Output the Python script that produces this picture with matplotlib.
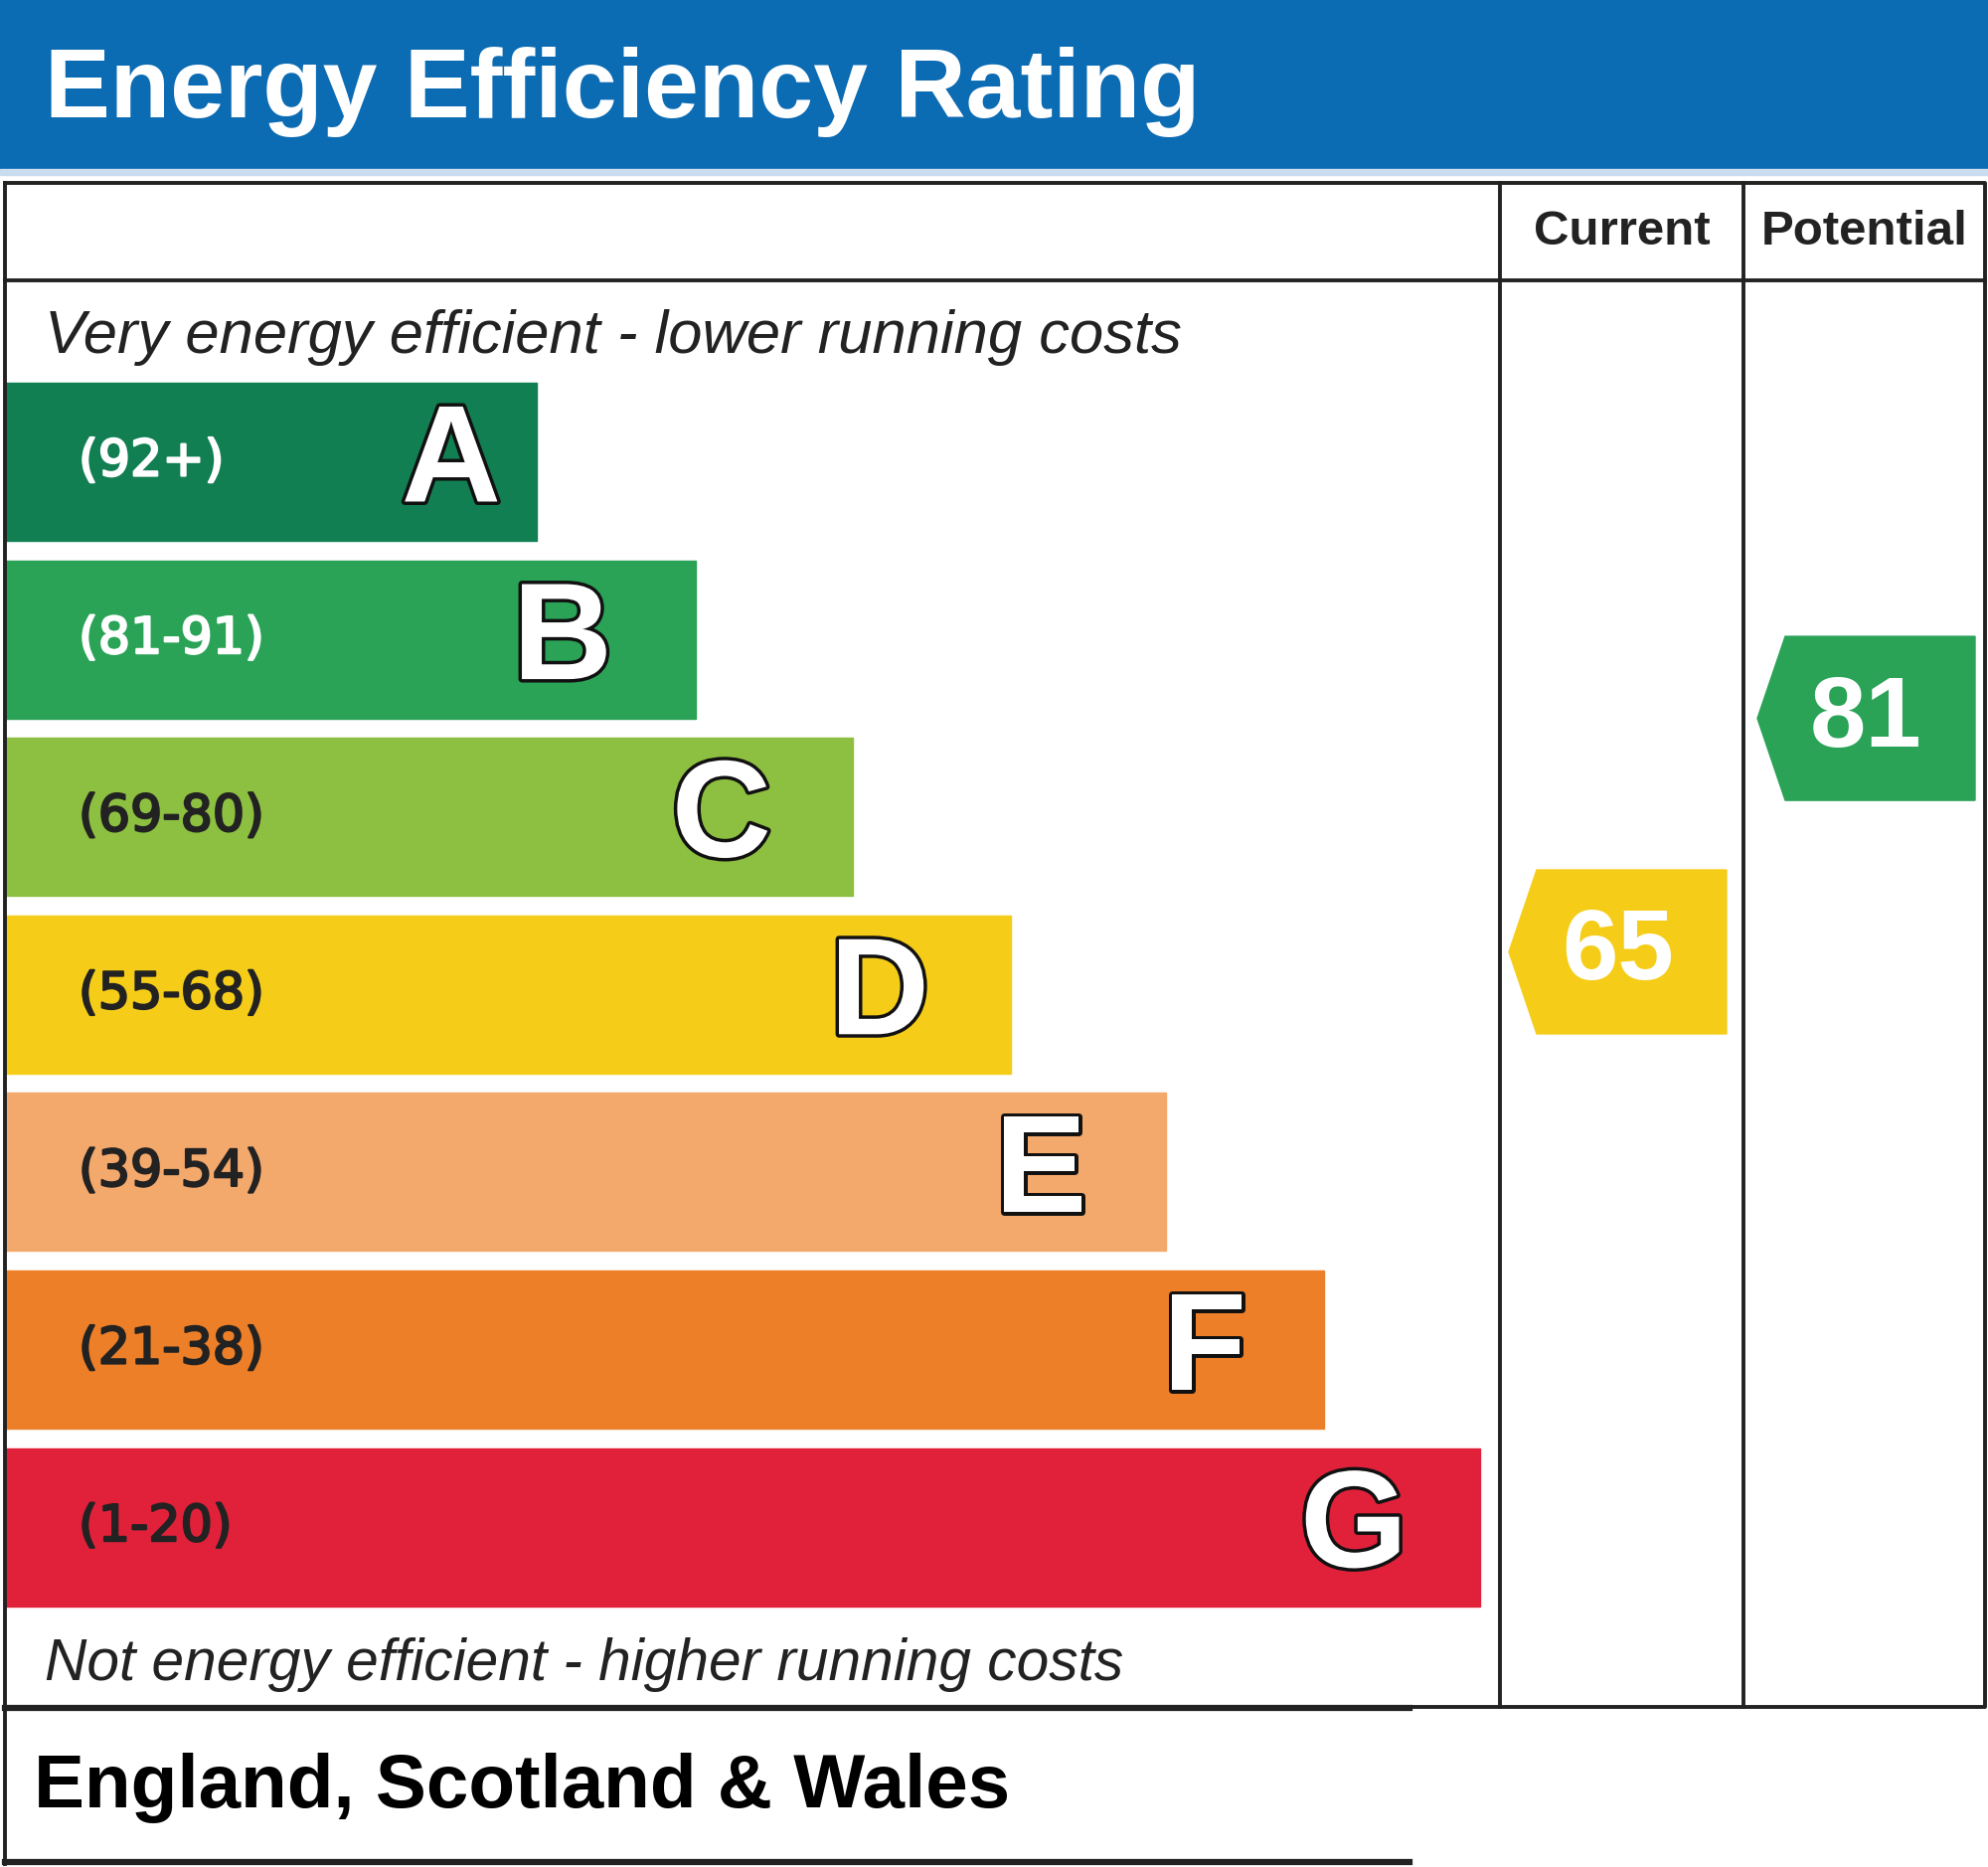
import matplotlib
matplotlib.use("Agg")
import matplotlib.pyplot as plt
from matplotlib.patches import Rectangle, Polygon
import matplotlib.patheffects as pe

plt.rcParams['font.family'] = ['Liberation Sans', 'DejaVu Sans']

# data
bands = ["A", "B", "C", "D", "E", "F", "G"]
ranges = ["(92+)", "(81-91)", "(69-80)", "(55-68)", "(39-54)", "(21-38)", "(1-20)"]
lows = [92, 81, 69, 55, 39, 21, 1]
highs = [100, 91, 80, 68, 54, 38, 20]
colors = ["#117f52", "#2aa357", "#8dbf40", "#f5cd19", "#f3a86c", "#ec7f28", "#e1213a"]
label_colors = ["white", "white", "#222222", "#222222", "#222222", "#222222", "#222222"]
bar_widths = [535, 695, 853, 1012, 1168, 1327, 1484]
current = 65
potential = 81

W, H = 2000, 1878
fig = plt.figure(figsize=(W / 100, H / 100), dpi=100)
ax = fig.add_axes([0, 0, 1, 1])
ax.set_xlim(0, W)
ax.set_ylim(H, 0)
ax.axis("off")

# header
ax.add_patch(Rectangle((0, 0), W, 170, color="#0b6bb3"))
ax.add_patch(Rectangle((0, 170), W, 6, color="#c9dcf0"))
ax.text(45, 92, "Energy Efficiency Rating", color="white", fontsize=71,
        fontweight="bold", va="center", ha="left")

# frame
lw = 2.8
left, right, top, bottom = 5, 1997, 184, 1717
col1, col2 = 1509, 1754
ax.plot([left, right, right, left, left], [top, top, bottom, bottom, top], color="#222222", lw=lw)
ax.plot([col1, col1], [top, bottom], color="#222222", lw=lw)
ax.plot([col2, col2], [top, bottom], color="#222222", lw=lw)
ax.plot([left, right], [282, 282], color="#222222", lw=lw)
ax.text((col1 + col2) / 2, 234, "Current", fontsize=35.5, fontweight="bold",
        ha="center", va="center", color="#222222")
ax.text((col2 + right) / 2, 234, "Potential", fontsize=35.5, fontweight="bold",
        ha="center", va="center", color="#222222")

ax.text(45, 340, "Very energy efficient - lower running costs", fontsize=44.3,
        style="italic", ha="left", va="center", color="#222222")
ax.text(45, 1674, "Not energy efficient - higher running costs", fontsize=42.2,
        style="italic", ha="left", va="center", color="#222222")

# bars
bar_top0 = 385
bar_h = 159
step = 178.6
letter_offsets = [36, 84, 82, 82, 80, 78, 73]
outline = [pe.Stroke(linewidth=5, foreground="#111111"), pe.Normal()]
for i, b in enumerate(bands):
    y0 = bar_top0 + i * step
    ax.add_patch(Rectangle((left, y0), bar_widths[i], bar_h, color=colors[i]))
    ax.text(79, y0 + bar_h / 2, ranges[i], fontsize=36.5, family="DejaVu Sans",
            color=label_colors[i], ha="left", va="center",
            path_effects=[pe.withStroke(linewidth=1.6, foreground=label_colors[i])])
    ax.text(left + bar_widths[i] - letter_offsets[i], y0 + bar_h / 2 + 4, b,
            fontsize=100, fontweight="bold", color="white", ha="right",
            va="center", path_effects=outline)


def band_of(v):
    for i in range(len(bands)):
        if lows[i] <= v <= highs[i]:
            return i
    return len(bands) - 1


def arrow(value, x_tip, x_right):
    i = band_of(value)
    y0 = bar_top0 + i * step
    yc = y0 + (highs[i] - value) / (highs[i] - lows[i]) * bar_h
    h = 165
    notch = 28
    pts = [(x_tip, yc), (x_tip + notch, yc - h / 2), (x_right, yc - h / 2),
           (x_right, yc + h / 2), (x_tip + notch, yc + h / 2)]
    ax.add_patch(Polygon(pts, closed=True, color=colors[i]))
    ax.text((x_tip + x_right) / 2, yc + 2, str(value), fontsize=73,
            fontweight="bold", color="white", ha="center", va="center")


arrow(current, 1518, 1737)
arrow(potential, 1768, 1987)

# footer
ax.plot([left, 1418], [bottom + 1, bottom + 1], color="#222222", lw=4.5)
ax.plot([left, 1418], [1873, 1873], color="#222222", lw=4.5)
ax.plot([left, left], [bottom, 1875], color="#222222", lw=lw)
ax.text(34, 1799, "England, Scotland & Wales", fontsize=55, fontweight="bold",
        ha="left", va="center", color="black")

plt.savefig("out.png", dpi=100)
